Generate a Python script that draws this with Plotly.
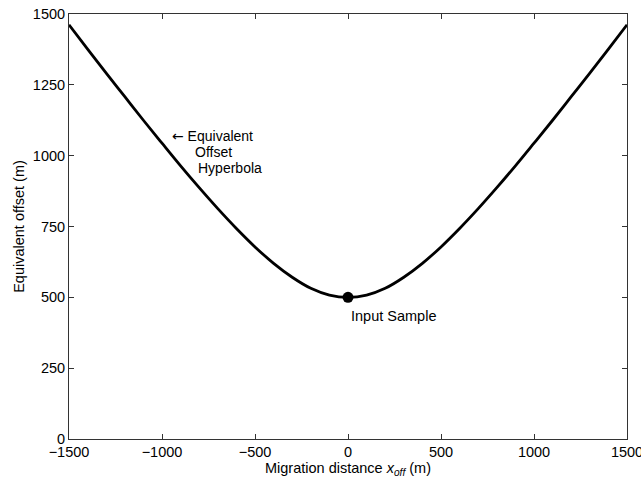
import plotly.graph_objects as go

# Migration distance (m) and equivalent offset (m)
x_off = [-1500, -1400, -1300, -1200, -1100, -1000, -900, -800, -700, -600, -500,
         -400, -300, -200, -100, 0, 100, 200, 300, 400, 500, 600, 700, 800, 900,
         1000, 1100, 1200, 1300, 1400, 1500]
h_eq = [1462, 1376, 1291, 1208, 1125, 1044, 964, 887, 813, 743, 678,
        620, 571, 532, 508, 500, 508, 532, 571, 620, 678, 743, 813, 887, 964,
        1044, 1125, 1208, 1291, 1376, 1462]
sample_x = [0]
sample_y = [500]
x_ticks = [-1500, -1000, -500, 0, 500, 1000, 1500]
y_ticks = [0, 250, 500, 750, 1000, 1250, 1500]

FONT = "Liberation Sans, Arial, Helvetica, sans-serif"
FS = 14.5

fig = go.Figure()
fig.add_trace(go.Scatter(x=x_off, y=h_eq, mode="lines",
                         line=dict(color="black", width=2.8, shape="spline"),
                         showlegend=False, hoverinfo="skip"))
fig.add_trace(go.Scatter(x=sample_x, y=sample_y, mode="markers",
                         marker=dict(color="black", size=11),
                         showlegend=False, hoverinfo="skip"))

axis_common = dict(showline=True, linecolor="#333333", linewidth=1, mirror="ticks",
                   ticks="inside", ticklen=5, tickcolor="#333333", showgrid=False,
                   zeroline=False, automargin=False, ticklabeloverflow="allow",
                   tickfont=dict(family=FONT, size=FS, color="black"))

fig.update_xaxes(range=[-1500, 1500], tickvals=x_ticks,
                 ticktext=[f"{v}".replace("-", "\u2212") for v in x_ticks],
                 title=dict(text="Migration distance <i>x</i><sub><i>off</i></sub> (m)",
                            font=dict(family=FONT, size=FS, color="black"), standoff=0),
                 **axis_common)
fig.update_yaxes(range=[0, 1500], tickvals=y_ticks,
                 title=dict(text="Equivalent offset (m)",
                            font=dict(family=FONT, size=FS, color="black"), standoff=4),
                 **axis_common)

ann_font = dict(family=FONT, size=14, color="black")
fig.add_annotation(x=-957, y=1069,
                   text="<span style=\"font-family:DejaVu Sans\">\u2190</span> Equivalent",
                   showarrow=False, xanchor="left", yanchor="middle", font=ann_font)
fig.add_annotation(x=-833, y=1013, text="Offset", showarrow=False,
                   xanchor="left", yanchor="middle", font=ann_font)
fig.add_annotation(x=-817, y=957, text="Hyperbola", showarrow=False,
                   xanchor="left", yanchor="middle", font=ann_font)
fig.add_annotation(x=5, y=435, text="Input Sample", showarrow=False,
                   xanchor="left", yanchor="middle",
                   font=dict(family=FONT, size=FS, color="black"))

fig.update_layout(width=641, height=480, plot_bgcolor="white", paper_bgcolor="white",
                  margin=dict(l=69, r=14, t=14, b=41))

fig.write_html("out.html")
